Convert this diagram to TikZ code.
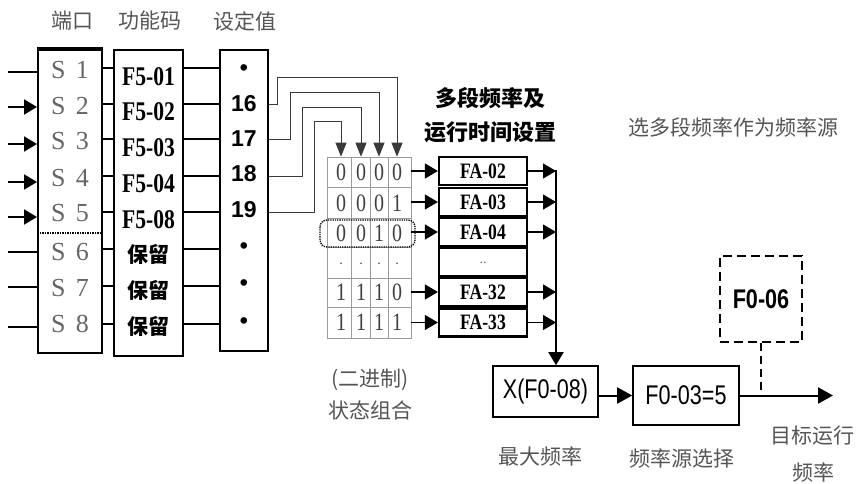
\documentclass[tikz,border=0pt]{standalone}
\usepackage{fontspec}
\usepackage{graphicx}
\setmainfont{Liberation Serif}
\newfontfamily\hei{Noto Sans CJK SC}
\newfontfamily\arial{Liberation Sans}
\usetikzlibrary{arrows.meta}
\definecolor{lblgrey}{HTML}{555555}
\definecolor{gridgrey}{HTML}{9A9A9A}
\definecolor{wiregrey}{HTML}{3A3A3A}
\newcommand{\narrow}[1]{\scalebox{0.8}[1]{#1}}

\tikzset{
  colbox/.style={draw, line width=2pt, inner sep=0pt},
  hdrtxt/.style={inner sep=0pt, text=lblgrey, font=\hei\fontsize{21}{24}\selectfont},
  porttxt/.style={inner sep=0pt, text=black!60, font=\fontsize{26}{30}\selectfont},
  codetxt/.style={inner sep=0pt, font=\bfseries\fontsize{27}{30}\selectfont},
  cjkcode/.style={inner sep=0pt, font=\hei\bfseries\fontsize{21}{24}\selectfont},
  valtxt/.style={inner sep=0pt, font=\arial\bfseries\fontsize{23}{26}\selectfont},
  bittxt/.style={inner sep=0pt, text=black!75, font=\fontsize{25}{28}\selectfont},
  fabox/.style={draw, line width=2.2pt, minimum width=88pt, minimum height=28pt, inner sep=0pt, font=\bfseries\fontsize{22}{24}\selectfont},
  blockbox/.style={draw, line width=1.6pt, inner sep=0pt, font=\arial\fontsize{27}{30}\selectfont},
  greytxt/.style={inner sep=0pt, text=lblgrey, font=\hei\fontsize{21}{24}\selectfont},
  titletxt/.style={inner sep=0pt, font=\hei\bfseries\fontsize{22}{26}\selectfont},
  wire/.style={line width=2pt},
  midwire/.style={line width=1.2pt},
  thinwire/.style={line width=0.9pt, wiregrey},
  gridline/.style={line width=0.7pt, gridgrey},
  arrowhd/.style={-{Triangle[length=13pt,width=15pt]}},
  smallhd/.style={-{Triangle[length=14pt,width=11pt]}},
  bighd/.style={-{Triangle[length=15pt,width=16pt]}}
}

\begin{document}
\begin{tikzpicture}[x=1pt, y=-1pt]
  \useasboundingbox (0,0) rectangle (860,484);

  % Spaltenkoepfe
  \node[hdrtxt] (hport) at (72,21) {端口};
  \node[hdrtxt] (hfunc) at (150,21) {功能码};
  \node[hdrtxt] (hval) at (245,21) {设定值};

  % Spalten
  \node[colbox, minimum width=64pt, minimum height=303pt] (portbox) at (70,201.5) {};
  \node[colbox, minimum width=69pt, minimum height=306pt] (funcbox) at (148.5,203) {};
  \node[colbox, minimum width=48pt, minimum height=301pt] (valbox) at (244,200.5) {};
  \draw[line width=3pt] (portbox.north west) -- (portbox.north east);
  \coordinate (sep) at (70,233);
  \draw[densely dotted, line width=1.5pt] (portbox.west |- sep) -- (portbox.east |- sep);

  % Klemmen S1..S8
  \foreach \i/\ys in {1/70,2/106,3/141,4/178,5/213,6/252,7/288,8/324}
    \node[porttxt] (s\i) at (70,\ys) {S\hspace{0.4em}\i};

  % Funktionscodes
  \foreach \i/\yf/\txt in {1/77/F5-01, 2/112/F5-02, 3/148/F5-03, 4/184/F5-04, 5/220/F5-08}
    \node[codetxt] (f\i) at (148.5,\yf) {\narrow{\txt}};
  \foreach \i/\yf in {6/254, 7/290, 8/326}
    \node[cjkcode] (f\i) at (148.5,\yf) {保留};

  % Einstellwerte
  \foreach \i/\yv/\txt in {1/70/\textbullet, 2/104/16, 3/139/17, 4/174/18, 5/210/19, 6/248/\textbullet, 7/285/\textbullet, 8/323/\textbullet}
    \node[valtxt] (v\i) at (244,\yv) {\txt};

  % Leitungen
  \foreach \i/\yin/\yc/\arr in {1/72/68/-, 2/107/104/arrowhd, 3/144/139/arrowhd, 4/182/176/arrowhd, 5/217/212/arrowhd, 6/252/249/-, 7/287/286/-, 8/327/324/-} {
    \coordinate (in\i) at (8,\yin);
    \coordinate (r\i) at (0,\yc);
    \draw[wire, \arr] (in\i) -- (portbox.west |- in\i);
    \draw[wire] (portbox.east |- r\i) -- (funcbox.west |- r\i);
    \draw[wire] (funcbox.east |- r\i) -- (valbox.west |- r\i);
  }

  % Zustandstabelle
  \node[draw=gridgrey, line width=0.7pt, minimum width=84pt, minimum height=181pt, inner sep=0pt] (mat) at (369,247.5) {};
  \foreach \x in {351,370,388}
    \draw[gridline] (\x,157) -- (\x,338);
  \foreach \y in {187,218,247,278,307}
    \draw[gridline] (327,\y) -- (411,\y);
  \foreach \j/\y/\a/\b/\c/\d in {1/172/0/0/0/0, 2/203/0/0/0/1, 3/233/0/0/1/0, 5/292/1/1/1/0, 6/322/1/1/1/1} {
    \node[bittxt] (b\j-1) at (341,\y) {\narrow{\a}};
    \node[bittxt] (b\j-2) at (361,\y) {\narrow{\b}};
    \node[bittxt] (b\j-3) at (379,\y) {\narrow{\c}};
    \node[bittxt] (b\j-4) at (397,\y) {\narrow{\d}};
  }
  \foreach \k/\x in {1/341, 2/361, 3/379, 4/397}
    \node[bittxt, font=\fontsize{14}{16}\selectfont] (b4-\k) at (\x,264) {.};
  \draw[densely dotted, line width=1.3pt, rounded corners=7pt] (320,220) rectangle (415,247);

  % Werte zur Tabelle
  \foreach \c/\x in {1/341, 2/361, 3/379, 4/397}
    \coordinate (c\c) at (\x,0);
  \foreach \i/\xa/\ya/\c in {2/277/77/4, 3/290/92/3, 4/302/107/2, 5/314/121/1}
    \draw[thinwire, smallhd] (valbox.east |- r\i) -| (\xa,\ya) -| (c\c |- mat.north);

  % Mehrstufenfrequenzen
  \node[titletxt] (ttl1) at (490,98) {多段频率及};
  \node[titletxt] (ttl2) at (490,132) {运行时间设置};
  \foreach \i/\y/\txt in {1/171/FA-02, 2/202/FA-03, 3/232/FA-04, 5/292/FA-32, 6/322.5/FA-33}
    \node[fabox] (fa\i) at (483,\y) {\narrow{\txt}};
  \node[fabox, font=\fontsize{14}{16}\selectfont, text=black!60] (fa4) at (483,262) {\raisebox{-4pt}{..}};
  \coordinate (bus) at (556,170);
  \foreach \i in {1,2,3,5,6} {
    \draw[midwire, arrowhd] (mat.east |- fa\i) -- (fa\i.west);
    \draw[midwire, arrowhd] (fa\i.east) -- (bus |- fa\i);
  }

  % Frequenzquelle
  \node[blockbox, minimum width=105pt, minimum height=51pt] (xbox) at (545.5,391.5) {\narrow{X(F0-08)}};
  \node[blockbox, minimum width=106pt, minimum height=59pt] (fsel) at (686,395.5) {\narrow{F0-03=5}};
  \node[blockbox, dash pattern=on 9pt off 5pt, minimum width=82pt, minimum height=86pt] (f06) at (761,299) {\narrow{\bfseries F0-06}};
  \coordinate (out) at (833,395.5);
  \draw[wire, arrowhd] (bus) -- (bus |- xbox.north);
  \draw[wire, bighd] (xbox.east |- fsel) -- (fsel.west);
  \draw[wire, bighd] (fsel.east) -- (out);
  \draw[wire, dash pattern=on 8pt off 5pt] (f06.south) -- (f06.south |- out);

  % Beschriftungen
  \node[greytxt] (lbin1) at (370,380) {(二进制)};
  \node[greytxt] (lbin2) at (370,410) {状态组合};
  \node[greytxt] (lmax) at (540,456) {最大频率};
  \node[greytxt] (lsrc) at (682,458) {频率源选择};
  \node[greytxt] (ltgt1) at (812,436) {目标运行};
  \node[greytxt] (ltgt2) at (813,472) {频率};
  \node[greytxt] (lsel) at (733,127) {选多段频率作为频率源};
\end{tikzpicture}
\end{document}
